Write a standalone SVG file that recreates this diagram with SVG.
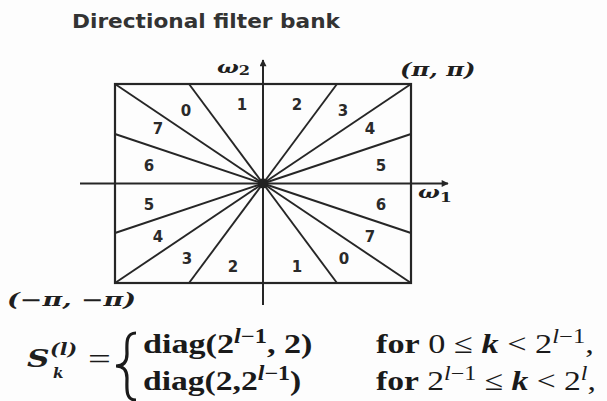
<svg xmlns="http://www.w3.org/2000/svg" width="607" height="401" viewBox="0 0 607 401">
<style>
.title{font-family:"DejaVu Sans",sans-serif;font-weight:bold;font-size:20px;fill:#333}
.num{font-family:"DejaVu Sans",sans-serif;font-weight:bold;font-size:15px;fill:#2a2a2a;text-anchor:middle}
.ser{font-family:"Liberation Serif",serif;fill:#1a1a1a}
.dser{font-family:"DejaVu Serif",serif;fill:#1f1f1f;font-weight:bold}
.b{font-weight:bold}
.i{font-style:italic}
.ln{stroke:#262626;stroke-width:1.9;fill:none}
.box{stroke:#262626;stroke-width:2.2;fill:none}
.ax{stroke:#262626;stroke-width:2;fill:none}
</style>
<defs>
<marker id="ah" viewBox="0 0 10 10" refX="9" refY="5" markerWidth="9" markerHeight="7" orient="auto" markerUnits="userSpaceOnUse">
<path d="M0,0 L10,5 L0,10 Z" fill="#262626"/>
</marker>
</defs>
<rect width="607" height="401" fill="#fdfdfd"/>
<g id="title"><text class="title" x="72" y="28" textLength="268" lengthAdjust="spacingAndGlyphs">Directional filter bank</text></g>
<g id="connectors">
<rect class="box" x="115" y="84" width="296" height="199"/>
<line class="ax" x1="263" y1="305" x2="263" y2="60" marker-end="url(#ah)"/>
<line class="ax" x1="80" y1="183.5" x2="448" y2="183.5" marker-end="url(#ah)"/>
<line class="ln" x1="263" y1="183.5" x2="115" y2="84"/>
<line class="ln" x1="263" y1="183.5" x2="189" y2="84"/>
<line class="ln" x1="263" y1="183.5" x2="337" y2="84"/>
<line class="ln" x1="263" y1="183.5" x2="411" y2="84"/>
<line class="ln" x1="263" y1="183.5" x2="411" y2="134"/>
<line class="ln" x1="263" y1="183.5" x2="411" y2="233"/>
<line class="ln" x1="263" y1="183.5" x2="411" y2="283"/>
<line class="ln" x1="263" y1="183.5" x2="337" y2="283"/>
<line class="ln" x1="263" y1="183.5" x2="189" y2="283"/>
<line class="ln" x1="263" y1="183.5" x2="115" y2="283"/>
<line class="ln" x1="263" y1="183.5" x2="115" y2="233"/>
<line class="ln" x1="263" y1="183.5" x2="115" y2="134"/>
<circle cx="263" cy="183.5" r="5" fill="#222"/>
</g>
<g id="labels-top">
<text class="num" x="186" y="116">0</text>
<text class="num" x="242" y="110">1</text>
<text class="num" x="297" y="110">2</text>
<text class="num" x="343" y="116">3</text>
<text class="num" x="158" y="134">7</text>
<text class="num" x="370" y="134">4</text>
<text class="num" x="149" y="171">6</text>
<text class="num" x="381" y="171">5</text>
</g>
<g id="labels-bottom">
<text class="num" x="149" y="210">5</text>
<text class="num" x="381" y="210">6</text>
<text class="num" x="158" y="242">4</text>
<text class="num" x="370" y="242">7</text>
<text class="num" x="187" y="264">3</text>
<text class="num" x="233" y="272">2</text>
<text class="num" x="297" y="272">1</text>
<text class="num" x="344" y="264">0</text>
</g>
<g id="axis-labels">
<text class="dser i" transform="translate(217,73) scale(1.35,1)" font-size="17">ω<tspan font-size="12" font-style="normal" dy="2">2</tspan></text>
<text class="dser i" transform="translate(418,198) scale(1.35,1)" font-size="17">ω<tspan font-size="13" font-style="normal" dy="4">1</tspan></text>
<text class="dser i" transform="translate(400,76) scale(1.35,1)" font-size="18">(π, π)</text>
<text class="dser i" transform="translate(7,306) scale(1.5,1)" font-size="18">(−π, −π)</text>
</g>
<g id="formula">
<text class="dser i" transform="translate(27,367) scale(1.25,1)" font-size="25">S</text>
<text class="dser i" transform="translate(50,355) scale(1.2,1)" font-size="17">(l)</text>
<text class="dser i" transform="translate(53,378)" font-size="15">k</text>
<text class="ser" transform="translate(88,369) scale(1.4,1)" font-size="29">=</text>
<path d="M136,333 C125,333 127,345 127,354 C127,361 124,366 116,366 C124,366 127,371 127,378 C127,388 125,400 136,400" fill="none" stroke="#1a1a1a" stroke-width="3.2"/>
<text class="ser b" transform="translate(143,353) scale(1.22,1)" font-size="28">diag(2<tspan font-size="20" font-style="italic" dy="-10">l</tspan><tspan font-size="20">−1</tspan><tspan dy="10">, 2)</tspan></text>
<text class="ser b" transform="translate(143,390) scale(1.2,1)" font-size="28">diag(2,2<tspan font-size="20" font-style="italic" dy="-10">l</tspan><tspan font-size="20">−1</tspan><tspan dy="10">)</tspan></text>
<text class="ser" transform="translate(376,353) scale(1.225,1)" font-size="28"><tspan font-weight="bold">for</tspan> 0 ≤ <tspan font-style="italic" font-weight="bold">k</tspan> &lt; 2<tspan font-size="20" font-style="italic" dy="-10">l</tspan><tspan font-size="20">−1</tspan><tspan dy="10">,</tspan></text>
<text class="ser" transform="translate(376,390) scale(1.2,1)" font-size="28"><tspan font-weight="bold">for</tspan> 2<tspan font-size="20" font-style="italic" dy="-10">l</tspan><tspan font-size="20">−1</tspan><tspan dy="10"> ≤ </tspan><tspan font-style="italic" font-weight="bold">k</tspan> &lt; 2<tspan font-size="20" font-style="italic" dy="-10">l</tspan><tspan dy="10">,</tspan></text>
</g>
</svg>
